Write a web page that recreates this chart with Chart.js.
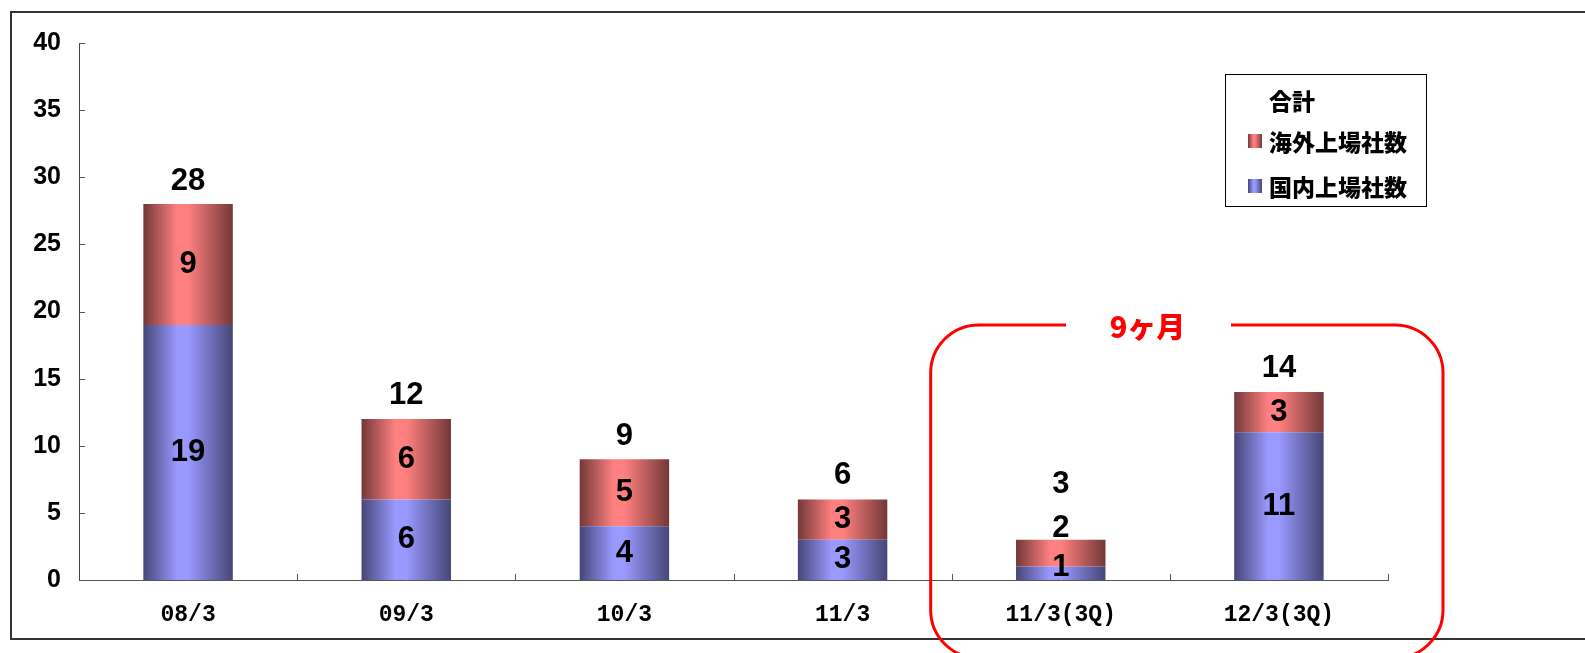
<!DOCTYPE html>
<html>
<head>
<meta charset="utf-8">
<script src="https://cdn.jsdelivr.net/npm/chart.js@4/dist/chart.umd.min.js"></script>
<style>
  html, body { margin: 0; padding: 0; background: #fff; }
  canvas { display: block; }
</style>
</head>
<body>
<canvas id="c" width="1585" height="653"></canvas>
<script>
// Listed companies per fiscal period
const categories = ['08/3', '09/3', '10/3', '11/3', '11/3(3Q)', '12/3(3Q)'];
const domestic = [19, 6, 4, 3, 1, 11];   // 国内上場社数
const overseas = [9, 6, 5, 3, 2, 3];     // 海外上場社数
const totals = [28, 12, 9, 6, 3, 14];    // 合計
const yTicks = { min: 0, max: 40, step: 5 };
const periodNote = '9ヶ月';

const BAR_FRACTION = 0.41;
const palette = {
  domestic: { light: '#9999ff', dark: '#464676' },
  overseas: { light: '#ff8080', dark: '#733838' }
};

function shadeGradient(ctx2d, x0, x1, c) {
  const g = ctx2d.createLinearGradient(x0, 0, x1, 0);
  g.addColorStop(0, c.dark);
  g.addColorStop(0.38, c.light);
  g.addColorStop(0.5, c.light);
  g.addColorStop(1, c.dark);
  return g;
}

function barFill(c) {
  return (context) => {
    const chart = context.chart;
    if (!chart.chartArea || context.type !== 'data') return c.light;
    const xs = chart.scales.x;
    const cx = xs.getPixelForValue(context.dataIndex);
    const w = xs.width / categories.length * BAR_FRACTION;
    return shadeGradient(chart.ctx, cx - w / 2, cx + w / 2, c);
  };
}

const LABEL_FONT = 'bold 31px "Liberation Sans", Arial, sans-serif';

// Value labels: segment values centred, totals above the stack
const valueLabels = {
  id: 'valueLabels',
  afterDatasetsDraw(chart) {
    const ctx = chart.ctx;
    const axisY = chart.scales.y.getPixelForValue(0);
    const mD = chart.getDatasetMeta(0), mO = chart.getDatasetMeta(1);
    ctx.save();
    ctx.font = LABEL_FONT;
    ctx.fillStyle = '#000';
    ctx.textAlign = 'center';
    ctx.textBaseline = 'middle';
    categories.forEach((_, i) => {
      const eD = mD.data[i], eO = mO.data[i];
      const yD = Math.min((eD.y + eD.base) / 2, axisY - 13);
      const yO = Math.min((eO.y + eO.base) / 2, yD - 39);
      const yT = Math.min(eO.y - 23, yO - 44);
      ctx.fillText(String(domestic[i]), eD.x, yD);
      ctx.fillText(String(overseas[i]), eO.x, yO);
      ctx.fillText(String(totals[i]), eO.x, yT);
    });
    ctx.restore();
  }
};

// Inward tick marks on both axes
const innerTicks = {
  id: 'innerTicks',
  afterDraw(chart) {
    const ctx = chart.ctx;
    const xs = chart.scales.x, ys = chart.scales.y;
    const left = chart.chartArea.left, bottom = chart.chartArea.bottom;
    ctx.save();
    ctx.strokeStyle = '#555';
    ctx.lineWidth = 1;
    ctx.beginPath();
    ys.ticks.forEach(t => {
      const y = Math.round(ys.getPixelForValue(t.value)) + 0.5;
      ctx.moveTo(left, y);
      ctx.lineTo(left + 6, y);
    });
    const step = xs.width / categories.length;
    for (let i = 1; i <= categories.length; i++) {
      const x = Math.round(xs.left + step * i) + 0.5;
      ctx.moveTo(x, bottom);
      ctx.lineTo(x, bottom - 6);
    }
    ctx.stroke();
    ctx.restore();
  }
};

// Outer frame, legend box and the nine-month period marker
const decorations = {
  id: 'decorations',
  afterDraw(chart) {
    const ctx = chart.ctx;
    const xs = chart.scales.x, ys = chart.scales.y;
    ctx.save();

    // frame
    ctx.strokeStyle = '#333';
    ctx.lineWidth = 2;
    ctx.beginPath();
    ctx.moveTo(chart.width + 5, 12);
    ctx.lineTo(11, 12);
    ctx.lineTo(11, 639);
    ctx.lineTo(chart.width + 5, 639);
    ctx.stroke();

    // legend
    const lx = 1225.5, ly = 74.5, lw = 201, lh = 132;
    ctx.fillStyle = '#fff';
    ctx.fillRect(lx, ly, lw, lh);
    ctx.strokeStyle = '#000';
    ctx.lineWidth = 1;
    ctx.strokeRect(lx, ly, lw, lh);
    ctx.font = '900 23px "Noto Sans CJK JP", sans-serif';
    ctx.textAlign = 'left';
    ctx.textBaseline = 'middle';
    const entries = [
      { ds: chart.data.datasets[2], y: 100, swatch: null },
      { ds: chart.data.datasets[1], y: 141, swatch: palette.overseas },
      { ds: chart.data.datasets[0], y: 186, swatch: palette.domestic }
    ];
    entries.forEach(e => {
      if (e.swatch) {
        ctx.fillStyle = shadeGradient(ctx, 1248, 1262, e.swatch);
        ctx.fillRect(1248, e.y - 7, 14, 14);
      }
      ctx.fillStyle = '#000';
      ctx.fillText(e.ds.label, 1269, e.y + 1);
    });

    // nine-month marker around the last two periods
    const step = xs.width / categories.length;
    const bL = xs.left + step * 4 - 21;
    const bR = xs.left + step * 6 + 55;
    const bT = ys.getPixelForValue(19.0);
    const bB = 658, r = 48;
    const gapL = 1066, gapR = 1231;
    ctx.strokeStyle = '#ff0000';
    ctx.lineWidth = 3;
    ctx.beginPath();
    ctx.moveTo(gapR, bT);
    ctx.lineTo(bR - r, bT);
    ctx.arcTo(bR, bT, bR, bT + r, r);
    ctx.lineTo(bR, bB - r);
    ctx.arcTo(bR, bB, bR - r, bB, r);
    ctx.lineTo(bL + r, bB);
    ctx.arcTo(bL, bB, bL, bB - r, r);
    ctx.lineTo(bL, bT + r);
    ctx.arcTo(bL, bT, bL + r, bT, r);
    ctx.lineTo(gapL, bT);
    ctx.stroke();
    ctx.fillStyle = '#ff0000';
    ctx.font = '900 29px "Noto Sans CJK JP", sans-serif';
    ctx.textAlign = 'center';
    ctx.textBaseline = 'middle';
    ctx.fillText(periodNote, (gapL + gapR) / 2 - 1, bT + 2);

    ctx.restore();
  }
};

new Chart(document.getElementById('c'), {
  type: 'bar',
  data: {
    labels: categories,
    datasets: [
      {
        label: '国内上場社数',
        data: domestic,
        backgroundColor: barFill(palette.domestic),
        borderWidth: 0,
        stack: 'listed'
      },
      {
        label: '海外上場社数',
        data: overseas,
        backgroundColor: barFill(palette.overseas),
        borderWidth: 0,
        stack: 'listed'
      },
      {
        label: '合計',
        type: 'line',
        data: totals,
        showLine: false,
        pointRadius: 0,
        pointHoverRadius: 0,
        stack: 'total'
      }
    ]
  },
  options: {
    responsive: false,
    animation: false,
    devicePixelRatio: 1,
    barPercentage: BAR_FRACTION,
    categoryPercentage: 1.0,
    layout: { padding: { left: 0, right: 197, top: 43, bottom: 13 } },
    plugins: { legend: { display: false }, tooltip: { enabled: false } },
    scales: {
      x: {
        stacked: true,
        grid: { display: false, drawTicks: false },
        border: { display: true, color: '#555', width: 1 },
        ticks: {
          color: '#000',
          font: { family: '"Liberation Mono", monospace', size: 23, weight: 'bold' },
          padding: 21,
          maxRotation: 0,
          autoSkip: false
        },
        afterFit(s) { s.height = 60; }
      },
      y: {
        stacked: true,
        min: yTicks.min,
        max: yTicks.max,
        grid: { display: false, drawTicks: false },
        border: { display: true, color: '#444', width: 1 },
        ticks: {
          stepSize: yTicks.step,
          color: '#000',
          font: { family: '"Liberation Sans", Arial, sans-serif', size: 25, weight: 'bold' },
          padding: 18
        },
        afterFit(s) { s.width = 79; }
      }
    }
  },
  plugins: [valueLabels, innerTicks, decorations]
});
</script>
</body>
</html>
